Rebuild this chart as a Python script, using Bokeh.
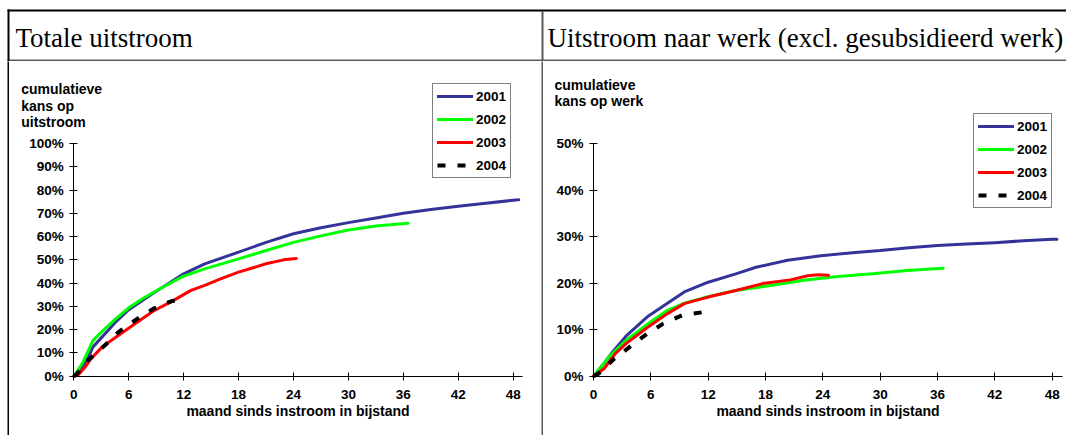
from bokeh.plotting import figure
from bokeh.layouts import row, column
from bokeh.models import Range1d, FixedTicker, PrintfTickFormatter, Legend, LegendItem, Label, LinearAxis
from bokeh.core.properties import value
from bokeh.embed import file_html
from bokeh.resources import INLINE
from bokeh.core.validation import silence
from bokeh.core.validation.warnings import MISSING_RENDERERS

silence(MISSING_RENDERERS, True)

# ---------------- texts ----------------
titles = ["Totale uitstroom", "Uitstroom naar werk (excl. gesubsidieerd werk)"]
y_titles_total = ["cumulatieve", "kans op", "uitstroom"]
y_titles_werk = ["cumulatieve", "kans op werk"]
x_label = "maand sinds instroom in bijstand"
years = ["2001", "2002", "2003", "2004"]
x_ticks = [0, 6, 12, 18, 24, 30, 36, 42, 48]
y_ticks_total = [0, 10, 20, 30, 40, 50, 60, 70, 80, 90, 100]
y_ticks_werk = [0, 10, 20, 30, 40, 50]

# ---------------- data: totale uitstroom (%) ----------------
tot_2001_m = [0, 1, 1.6, 2.1, 3.1, 4.5, 6, 8.7, 12, 14.3, 18, 21, 24, 27, 30, 33, 36, 39, 42, 45, 48, 48.6]
tot_2001_p = [0, 4.5, 8.3, 12.6, 16.9, 23, 28.6, 35.7, 44, 48.3, 53.3, 57.5, 61.2, 63.8, 66, 68, 70, 71.6, 73, 74.3, 75.6, 75.8]
tot_2002_m = [0, 1, 2.1, 3.1, 4.6, 6, 7.5, 9.4, 12, 14.3, 18, 21, 24, 27, 30, 33, 36.5]
tot_2002_p = [0, 6, 15.4, 19.3, 24.7, 29.4, 33.3, 37.6, 43, 46.1, 50.4, 54, 57.5, 60.3, 62.8, 64.5, 65.7]
tot_2003_m = [0, 0.45, 1.2, 1.75, 3.1, 4.9, 6.8, 8.7, 10.9, 12.8, 14.3, 16.1, 18, 21, 22.9, 24.3]
tot_2003_p = [0, 0.4, 3.7, 6.9, 12.6, 17.6, 22.9, 28, 32.6, 36.9, 39, 41.9, 44.7, 48.3, 50, 50.6]
tot_2004_m = [0, 0.3, 1.75, 3.4, 4.9, 6.8, 8.7, 10.7, 11.5]
tot_2004_p = [0, 0.8, 7.6, 13.3, 19, 24.3, 29, 32.3, 32.5]

# ---------------- data: uitstroom naar werk (%) ----------------
werk_2001_m = [0, 1, 2, 3.4, 5.6, 7.7, 9.5, 12, 14.9, 17, 20.3, 23.8, 27.4, 30, 33, 36, 39, 42, 45, 48, 48.5]
werk_2001_p = [0, 2.5, 5.2, 8.6, 12.7, 15.6, 18.1, 20.2, 22, 23.4, 24.9, 25.9, 26.6, 27, 27.6, 28.1, 28.4, 28.7, 29.1, 29.4, 29.4]
werk_2002_m = [0, 1.6, 3.4, 5.6, 7.7, 9.5, 12, 14.9, 18.5, 22, 25.6, 29.2, 32.8, 36.6]
werk_2002_p = [0, 4.1, 7.7, 11.1, 14.1, 15.7, 17.1, 18.4, 19.5, 20.6, 21.4, 22, 22.7, 23.2]
werk_2003_m = [0, 1.1, 2.3, 3.4, 5.6, 7.7, 9.5, 12, 14.9, 17.7, 20.6, 22.4, 23.5, 24.6]
werk_2003_p = [0, 1.6, 4.9, 7, 10.4, 13.4, 15.6, 17, 18.4, 19.9, 20.7, 21.6, 21.8, 21.7]
werk_2004_m = [0, 0.5, 2.2, 3.8, 5.6, 7.3, 9.3, 11.6]
werk_2004_p = [0, 0.5, 3.8, 6.3, 9.1, 11.3, 13.1, 13.8]

colors = ["#333399", "#00FF00", "#FF0000", "black"]
SANS = "Liberation Sans"
SERIF = "Liberation Serif"
RULE_GRAY = "#5a5a5a"

PAGE_W = 1066
PAGE_H = 435
BAND_H = 61               # title band (incl. rules)
PLOT_H = PAGE_H - BAND_H  # 374


def make_panel(fig_left, width, origin, kx, ky, x_axis_end, y_max, y_ticks,
               series, ytitle, ytitle_pos, legend_pos):
    """origin = page pixel of (0 month, 0 %); kx, ky = pixels per unit."""
    x0, y0 = origin
    xr = Range1d((fig_left - x0) / kx, (fig_left + width - x0) / kx)
    yr = Range1d((y0 - PAGE_H) / ky, (y0 - BAND_H) / ky)
    p = figure(width=width, height=PLOT_H, x_range=xr, y_range=yr,
               x_axis_type=None, y_axis_type=None,
               toolbar_location=None, output_backend="svg", min_border=0)
    p.outline_line_color = None

    xa = LinearAxis(fixed_location=0, bounds=(0, x_axis_end), ticker=FixedTicker(ticks=x_ticks))
    ya = LinearAxis(fixed_location=0, bounds=(0, y_max), ticker=FixedTicker(ticks=y_ticks),
                    formatter=PrintfTickFormatter(format="%d%%"))
    for ax in (xa, ya):
        ax.axis_line_color = "black"
        ax.axis_line_width = 1
        ax.major_tick_line_color = "black"
        ax.major_tick_in = 4
        ax.major_tick_out = 4
        ax.minor_tick_line_color = None
        ax.major_label_text_font = SANS
        ax.major_label_text_font_style = "bold"
        ax.major_label_text_font_size = "13.5px"
        ax.major_label_text_color = "black"
    xa.major_label_standoff = 10
    ya.major_label_standoff = 6
    xa.axis_label = x_label
    xa.axis_label_text_font = SANS
    xa.axis_label_text_font_style = "bold"
    xa.axis_label_text_font_size = "14px"
    xa.axis_label_text_color = "black"
    xa.axis_label_standoff = 0
    p.add_layout(xa, "below")
    p.add_layout(ya, "left")

    items = []
    for i, (m, v) in enumerate(series):
        if i == 3:
            r = p.line(m, v, line_color=colors[i], line_width=4, line_dash="8 12")
        else:
            r = p.line(m, v, line_color=colors[i], line_width=3, line_join="round", line_cap="round")
        items.append(LegendItem(label=years[i], renderers=[r]))

    lx, lbottom = legend_pos
    leg = Legend(items=items, location=(lx - fig_left, PAGE_H - lbottom), padding=4, spacing=7, margin=0,
                 label_height=16, glyph_height=16, glyph_width=36, label_standoff=3,
                 border_line_color="black", border_line_width=1,
                 background_fill_color="white", background_fill_alpha=1,
                 label_text_font=SANS, label_text_font_style="bold",
                 label_text_font_size="13.5px", label_text_color="black")
    p.add_layout(leg)

    tx, tys = ytitle_pos
    for t, ty in zip(ytitle, tys):
        p.add_layout(Label(x=(tx - x0) / kx, y=(y0 - ty) / ky, text=t,
                           text_font=SANS, text_font_style="bold", text_font_size="14px",
                           text_color="black", text_align="left", text_baseline="middle"))
    return p


left = make_panel(9, 532, (73.3, 375.7), 439.4 / 48, 232.7 / 100, 49.05, 100, y_ticks_total,
                  [(tot_2001_m, tot_2001_p), (tot_2002_m, tot_2002_p),
                   (tot_2003_m, tot_2003_p), (tot_2004_m, tot_2004_p)],
                  y_titles_total, (20.7, [88.3, 105.0, 121.7]), (432, 178))
right = make_panel(543, 523, (593, 375.7), 458.7 / 48, 232.7 / 50, 49.08, 50, y_ticks_werk,
                   [(werk_2001_m, werk_2001_p), (werk_2002_m, werk_2002_p),
                    (werk_2003_m, werk_2003_p), (werk_2004_m, werk_2004_p)],
                   y_titles_werk, (554, [84.0, 100.7]), (973, 208))

# ---------------- title band with table rules ----------------
top = figure(width=PAGE_W, height=BAND_H, x_range=Range1d(0, PAGE_W), y_range=Range1d(BAND_H, 0),
             x_axis_type=None, y_axis_type=None, toolbar_location=None, output_backend="svg",
             min_border=0)
top.outline_line_color = None
top.quad(left=[541, 7], right=[543, PAGE_W], top=[11, 59], bottom=[BAND_H, BAND_H],
         fill_color=RULE_GRAY, line_color=None)
top.quad(left=[7, 7], right=[PAGE_W, 9], top=[9, 9], bottom=[11, BAND_H],
         fill_color="black", line_color=None)
top.text(x=[15, 547], y=[37, 37], text=titles, text_font=value(SERIF), text_font_size="27px",
         text_baseline="alphabetic", text_align="left", text_color="black")


def bar(w, color):
    b = figure(width=w, height=PLOT_H, x_axis_type=None, y_axis_type=None, toolbar_location=None,
               output_backend="svg", min_border=0)
    b.outline_line_color = None
    b.background_fill_color = color
    b.border_fill_color = color
    return b


layout = column(top, row(bar(7, "white"), bar(2, "black"), left, bar(2, RULE_GRAY), right))

open("out.html", "w").write(file_html(layout, INLINE))
